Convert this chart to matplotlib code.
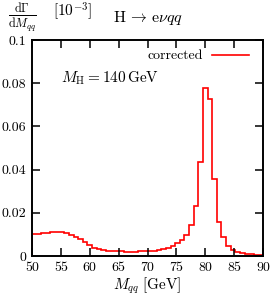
import numpy as np
import matplotlib
matplotlib.use('Agg')
import matplotlib.pyplot as plt

# bin edges of the M_qq histogram [GeV] (0.8 GeV bins)
mqq_lo = 50.0
mqq_hi = 90.0
n_bins = 50

# dGamma/dM_qq per bin
corrected = [0.0102, 0.0104, 0.0106, 0.0108, 0.0110, 0.0111, 0.0110, 0.0106,
             0.0099, 0.0090, 0.0078, 0.0063, 0.0049, 0.0039, 0.0032, 0.0028,
             0.0025, 0.0023, 0.0022, 0.0021, 0.0020, 0.0020, 0.0020, 0.0021,
             0.0021, 0.0023, 0.0025, 0.0028, 0.0032, 0.0038, 0.0047, 0.0060,
             0.0074, 0.0097, 0.0143, 0.0233, 0.0435, 0.0776, 0.0725, 0.0355,
             0.0159, 0.0087, 0.0048, 0.0030, 0.0020, 0.0014, 0.0010, 0.0007,
             0.0005, 0.0003]

xticks = [50, 55, 60, 65, 70, 75, 80, 85, 90]
yticks = [0, 0.02, 0.04, 0.06, 0.08, 0.1]
ytick_labels = ['0', '0.02', '0.04', '0.06', '0.08', '0.1']

plt.rcParams['font.family'] = 'serif'
plt.rcParams['font.serif'] = ['cmr10']
plt.rcParams['mathtext.fontset'] = 'cm'
plt.rcParams['axes.unicode_minus'] = False
plt.rcParams['font.size'] = 10

edges = np.linspace(mqq_lo, mqq_hi, n_bins + 1)

fig = plt.figure(figsize=(2.71, 3.0), dpi=100)
ax = fig.add_axes([32/271, 44/300, 231/271, 216/300])

ax.stairs(corrected, edges, color='red', lw=1.2, label='corrected')

ax.set_xlim(mqq_lo, mqq_hi)
ax.set_ylim(0, 0.1)
ax.set_xticks(xticks)
ax.set_xticklabels([str(t) for t in xticks])
ax.set_yticks(yticks)
ax.set_yticklabels(ytick_labels)
ax.tick_params(direction='in', length=5.8, width=1.1, top=True, right=True,
               labelsize=10, pad=4)
for s in ax.spines.values():
    s.set_linewidth(1.4)

ax.set_xlabel(r'$M_{qq}\;[\mathrm{GeV}]$', fontsize=11, labelpad=1)

leg = ax.legend(loc='upper right', frameon=False, fontsize=10,
                markerfirst=False, handlelength=2.7, handletextpad=0.6,
                borderpad=0, borderaxespad=0,
                bbox_to_anchor=(0.94, 0.955))

ax.text(55.1, 0.0805, r'$M_{\mathrm{H}} = 140\,\mathrm{GeV}$', fontsize=11,
        va='baseline')

# y-axis label: fraction plus unit bracket
fig.text(8/271, 1 - 1/300, r'$\frac{\mathrm{d}\Gamma}{\mathrm{d}M_{qq}}$',
         fontsize=12.5, va='top', ha='left')
fig.text(53/271, 1 - 11/300, r'$[10^{-3}]$',
         fontsize=11, va='center', ha='left')
fig.text(148/271, 1 - 18/300, r'$\mathrm{H}\, \rightarrow\, \mathrm{e}\nu qq$',
         fontsize=11.5, va='center', ha='center')

fig.savefig('out.png', dpi=100)
